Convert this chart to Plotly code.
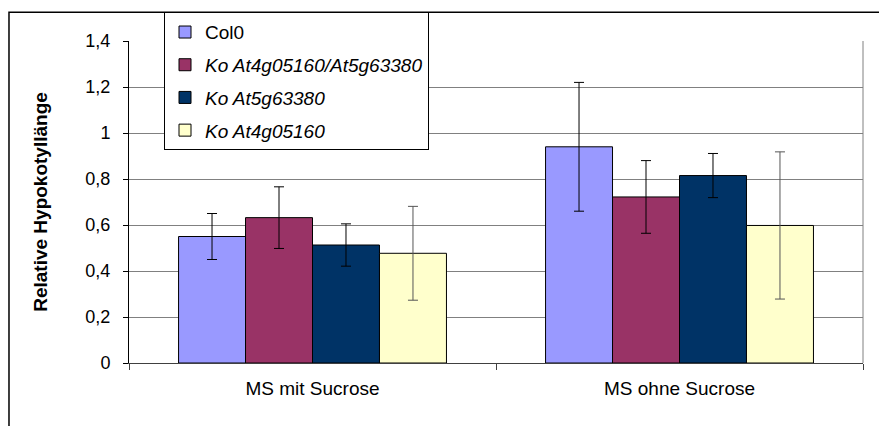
import plotly.graph_objects as go

categories = ["MS mit Sucrose", "MS ohne Sucrose"]
series_names = ["Col0", "<i>Ko At4g05160/At5g63380</i>", "<i>Ko At5g63380</i>", "<i>Ko At4g05160</i>"]
col0 = [0.55, 0.94]
ko_double = [0.632, 0.722]
ko_at5g = [0.513, 0.815]
ko_at4g = [0.477, 0.598]
err_col0 = [0.10, 0.28]
err_double = [0.134, 0.158]
err_at5g = [0.092, 0.096]
err_at4g = [0.204, 0.32]
colors = ["#9999FF", "#993366", "#003366", "#FFFFCC"]
err_colors = ["#000000", "#000000", "#000000", "#555555"]

values = [col0, ko_double, ko_at5g, ko_at4g]
errors = [err_col0, err_double, err_at5g, err_at4g]

FONT = "Liberation Sans, Arial, sans-serif"

fig = go.Figure()
for i, (name, v, e, c, ec) in enumerate(zip(series_names, values, errors, colors, err_colors)):
    fig.add_trace(go.Bar(
        x=categories, y=v, name=name, legendgroup=f"g{i}",
        marker=dict(color=c, line=dict(color="#000000", width=1)),
        error_y=dict(type="data", array=e, symmetric=True, color=ec, thickness=1, width=5),
    ))

fig.update_layout(
    width=879, height=426,
    margin=dict(l=129, r=16, t=39, b=63),
    paper_bgcolor="white", plot_bgcolor="white",
    separators=", ",
    font=dict(family=FONT, size=18, color="#000000"),
    barmode="group", bargap=0.27, bargroupgap=0,
    showlegend=True,
    legend=dict(
        x=0.0477, y=1.0895, xanchor="left", yanchor="top",
        bgcolor="white", bordercolor="#000000", borderwidth=1,
        font=dict(family=FONT, size=19, color="#000000"),
        traceorder="grouped", tracegroupgap=5,
        itemwidth=30,
    ),
    xaxis=dict(
        showline=True, linecolor="#404040", linewidth=1,
        ticks="outside", tickson="boundaries", ticklen=6, tickcolor="#404040",
        showgrid=False, tickfont=dict(size=19), ticklabelstandoff=8,
    ),
    yaxis=dict(
        range=[0, 1.4], dtick=0.2, tick0=0,
        showline=True, linecolor="#000000", linewidth=1,
        ticks="outside", ticklen=5, tickcolor="#000000",
        showgrid=True, gridcolor="#808080", gridwidth=1,
        zeroline=False, tickfont=dict(size=18), ticklabelstandoff=9,
        title=dict(text="<b>Relative Hypokotyllänge</b>", font=dict(size=19), standoff=32),
    ),
    shapes=[
        dict(type="line", xref="paper", yref="paper", x0=1, x1=1, y0=0, y1=1,
             line=dict(color="#808080", width=1), layer="below"),
        dict(type="rect", xref="paper", yref="paper", x0=-0.1635, x1=1.2, y0=-0.4, y1=1.0895,
             line=dict(color="#000000", width=1.5), layer="below"),
    ],
)

fig.write_html(
    "out.html",
    config={"displayModeBar": False},
    post_script="document.body.style.margin='0';document.body.style.overflow='hidden';",
)
